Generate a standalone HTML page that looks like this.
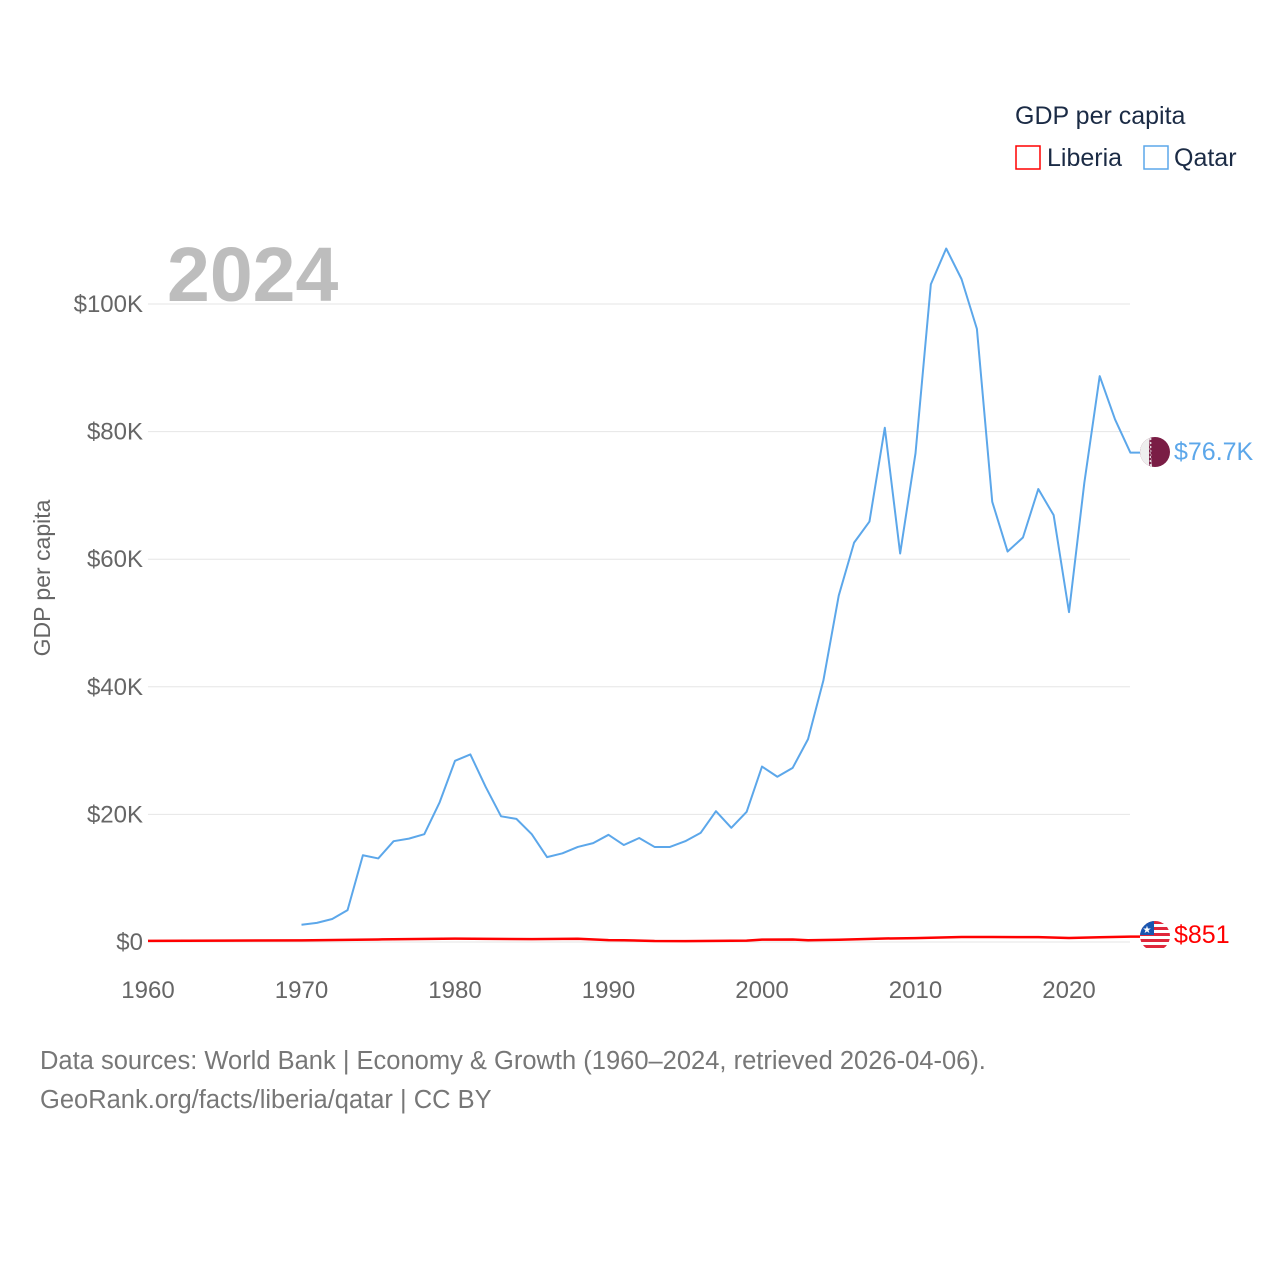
<!DOCTYPE html>
<html><head><meta charset="utf-8"><style>
body{margin:0;background:#fff;font-family:"Liberation Sans",sans-serif}
svg text{font-family:"Liberation Sans",sans-serif}
</style></head><body>
<svg id="chart" width="1280" height="1280" viewBox="0 0 1280 1280">
<g id="grid"></g><g id="xticks"></g><g id="yticks"></g><g id="lines"></g>
<text x="167" y="301" font-size="77" font-weight="bold" fill="#bdbdbd">2024</text>
<text transform="translate(50,578) rotate(-90)" text-anchor="middle" font-size="23" fill="#666">GDP per capita</text>
<text x="1015" y="124" font-size="25" fill="#1b2b45">GDP per capita</text>
<g><rect x="1016" y="146" width="24" height="23" fill="none" stroke="#f00" stroke-width="1.5"/><text x="1047" y="166" font-size="25" fill="#1b2b45">Liberia</text></g>
<g><rect x="1144" y="146" width="24" height="23" fill="none" stroke="#5ca7ea" stroke-width="1.5"/><text x="1174" y="166" font-size="25" fill="#1b2b45">Qatar</text></g>
<g><clipPath id="cq"><circle cx="1155" cy="452" r="15"/></clipPath><g clip-path="url(#cq)"><rect x="1140" y="437" width="30" height="30" fill="#7a1d45"/><rect x="1140" y="437" width="9" height="30" fill="#eee"/><path d="M1149 437 l3 2 -3 2 3 2 -3 2 3 2 -3 2 3 2 -3 2 3 2 -3 2 3 2 -3 2 3 2 -3 2 3 2z" fill="#eee"/></g></g>
<text x="1174" y="460" font-size="25" fill="#5ca7ea">$76.7K</text>
<g><clipPath id="cl"><circle cx="1155" cy="936" r="15"/></clipPath><g clip-path="url(#cl)"><rect x="1140" y="921" width="30" height="30" fill="#fff"/><g fill="#e0273b"><rect x="1140" y="921" width="30" height="3"/><rect x="1140" y="927" width="30" height="3"/><rect x="1140" y="933" width="30" height="3"/><rect x="1140" y="939" width="30" height="3"/><rect x="1140" y="945" width="30" height="3"/></g><rect x="1140" y="921" width="14" height="14" fill="#1a56b0"/><text x="1147" y="933" font-size="10" fill="#fff" text-anchor="middle">★</text></g></g>
<text x="1174" y="943" font-size="25" fill="#f00">$851</text>
<text x="40" y="1069" font-size="25.5" fill="#777">Data sources: World Bank | Economy &amp; Growth (1960–2024, retrieved 2026-04-06).</text>
<text x="40" y="1108" font-size="25.5" fill="#777">GeoRank.org/facts/liberia/qatar | CC BY</text>
</svg>
<script>
const qatarYears=[1970,1971,1972,1973,1974,1975,1976,1977,1978,1979,1980,1981,1982,1983,1984,1985,1986,1987,1988,1989,1990,1991,1992,1993,1994,1995,1996,1997,1998,1999,2000,2001,2002,2003,2004,2005,2006,2007,2008,2009,2010,2011,2012,2013,2014,2015,2016,2017,2018,2019,2020,2021,2022,2023,2024];
const qatarValues=[2.7,3.0,3.6,5.0,13.6,13.1,15.8,16.2,16.9,21.9,28.4,29.4,24.3,19.7,19.3,16.9,13.3,13.9,14.9,15.5,16.8,15.2,16.3,14.9,14.9,15.8,17.1,20.5,17.9,20.4,27.5,25.9,27.3,31.8,41.0,54.3,62.6,65.9,80.6,60.9,76.6,103.1,108.7,103.9,96.1,69.0,61.2,63.4,71.0,66.9,51.7,72.0,88.7,81.9,76.7];
const liberiaYears=[1960,1965,1970,1975,1980,1985,1988,1990,1991,1993,1995,1997,1999,2000,2002,2003,2005,2008,2010,2013,2015,2018,2020,2022,2024];
const liberiaValues=[0.18,0.22,0.26,0.40,0.52,0.45,0.50,0.30,0.28,0.15,0.14,0.18,0.22,0.38,0.39,0.27,0.35,0.55,0.60,0.78,0.78,0.76,0.62,0.75,0.85];
const yTicks=[0,20,40,60,80,100];
const yTickLabels=["$0","$20K","$40K","$60K","$80K","$100K"];
const xTicks=[1960,1970,1980,1990,2000,2010,2020];
const NS="http://www.w3.org/2000/svg";
const X=y=>148+(y-1960)*(1069-148)/60;
const Y=v=>942-v*6.38;
function mk(t,a,p){const e=document.createElementNS(NS,t);for(const k in a)e.setAttribute(k,a[k]);p.appendChild(e);return e;}
const grid=document.getElementById('grid'),yt=document.getElementById('yticks'),xt=document.getElementById('xticks'),ln=document.getElementById('lines');
yTicks.forEach((v,i)=>{
 const l=mk('line',{x1:148,x2:1130,y1:Y(v),y2:Y(v),stroke:'#e6e6e6','stroke-width':1},grid);
 
 
 const t=mk('text',{x:143,y:Y(v)+8,'text-anchor':'end','font-size':24,fill:'#666'},yt);t.textContent=yTickLabels[i];
 
 
});
xTicks.forEach(y=>{
 const t=mk('text',{x:X(y),y:998,'text-anchor':'middle','font-size':24,fill:'#666'},xt);t.textContent=y;
 
 
});
const qp=mk('polyline',{points:qatarYears.map((y,i)=>X(y)+','+Y(qatarValues[i])).join(' ')+' 1140,'+Y(qatarValues[qatarValues.length-1]),fill:'none',stroke:'#5ca7ea','stroke-width':2,'stroke-linejoin':'round'},ln);


const lp=mk('polyline',{points:liberiaYears.map((y,i)=>X(y)+','+Y(liberiaValues[i])).join(' ')+' 1140,'+Y(liberiaValues[liberiaValues.length-1]),fill:'none',stroke:'#f00','stroke-width':2.5,'stroke-linejoin':'round'},ln);


</script>
</body></html>
